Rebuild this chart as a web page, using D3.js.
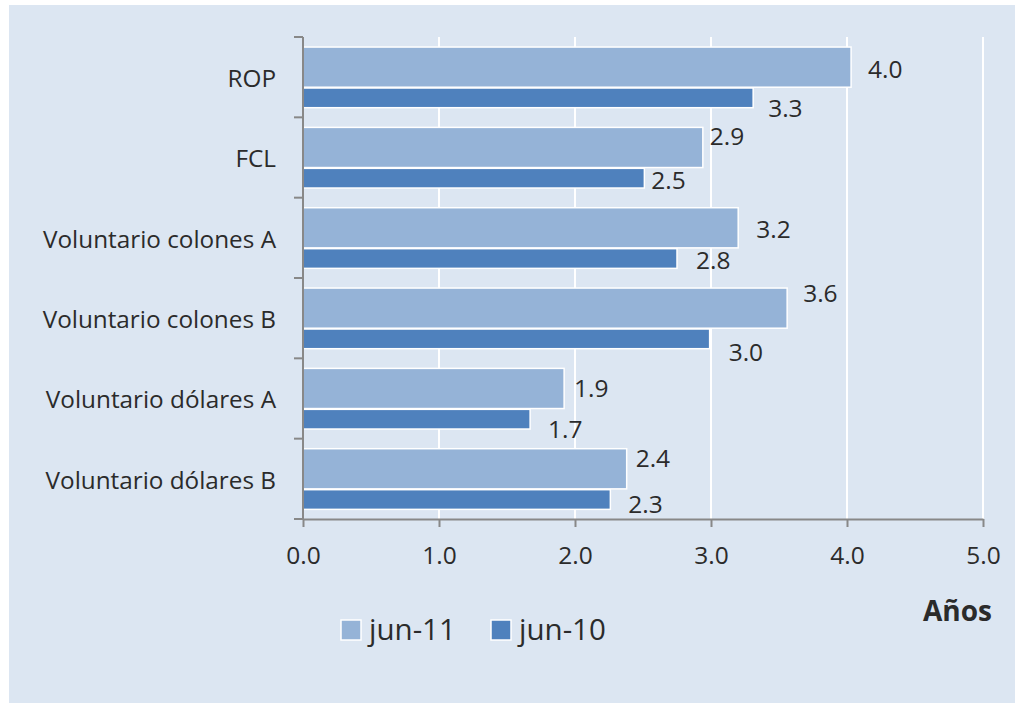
<!DOCTYPE html>
<html><head><meta charset="utf-8">
<script src="https://cdn.jsdelivr.net/npm/d3@7"></script>
<style>
html,body{margin:0;padding:0;background:#fff;}
svg{display:block;font-family:"Open Sans",sans-serif;}
</style></head>
<body>
<svg id="chart" width="1015" height="703"></svg>
<script>
// ---- data ----
const categories = ["ROP","FCL","Voluntario colones A","Voluntario colones B","Voluntario dólares A","Voluntario dólares B"];
const seriesNames = ["jun-11","jun-10"];
const jun11 = [4.03, 2.94, 3.20, 3.56, 1.92, 2.38];
const jun10 = [3.31, 2.51, 2.75, 2.99, 1.67, 2.26];
const xTicks = [0,1,2,3,4,5];
const axisTitle = "Años";
// label nudges (manual placement as in the original)
const nudge11 = {dx:[17,7,18,16,10,9], dy:[2,-11,1.5,-15,0,-11]};
const nudge10 = {dx:[15,7,19,19,18,18], dy:[10,2,1.5,13,10,5]};

const colors = {"jun-11":"#95b3d7","jun-10":"#4f81bd"};
const svg = d3.select("#chart");
const textColor = "#2b2b2b";

svg.append("rect").attr("x",9).attr("y",5).attr("width",1006).attr("height",698).attr("fill","#dce6f2");

const x = d3.scaleLinear().domain([0,5]).range([303,983]);
const y = d3.scaleBand().domain(categories).range([37,519]).paddingInner(0).paddingOuter(0);
const bw = y.bandwidth();

// gridlines
svg.append("g").selectAll("line").data(xTicks.slice(1)).join("line")
  .attr("x1",d=>x(d)).attr("x2",d=>x(d)).attr("y1",37).attr("y2",519)
  .attr("stroke","#fff").attr("stroke-width",2);

// bars
const fmt = d3.format(".1f");
const g = svg.append("g");
g.selectAll("rect.b11").data(categories).join("rect").attr("class","b11")
  .attr("x",x(0)).attr("y",d=>y(d)+0.125*bw).attr("height",0.5*bw)
  .attr("width",(d,i)=>x(jun11[i])-x(0))
  .attr("fill",colors["jun-11"]).attr("stroke","#fff").attr("stroke-width",1.5);
g.selectAll("rect.b10").data(categories).join("rect").attr("class","b10")
  .attr("x",x(0)).attr("y",d=>y(d)+0.635*bw).attr("height",0.245*bw)
  .attr("width",(d,i)=>x(jun10[i])-x(0))
  .attr("fill",colors["jun-10"]).attr("stroke","#fff").attr("stroke-width",1.5);

// value labels
g.selectAll("text.l11").data(categories).join("text").attr("class","l11")
  .attr("x",(d,i)=>x(jun11[i])+nudge11.dx[i])
  .attr("y",(d,i)=>y(d)+0.375*bw+nudge11.dy[i])
  .attr("dy","0.36em").attr("font-size",24.5).attr("fill",textColor)
  .text((d,i)=>fmt(jun11[i]));
g.selectAll("text.l10").data(categories).join("text").attr("class","l10")
  .attr("x",(d,i)=>x(jun10[i])+nudge10.dx[i])
  .attr("y",(d,i)=>y(d)+0.7575*bw+nudge10.dy[i])
  .attr("dy","0.36em").attr("font-size",24.5).attr("fill",textColor)
  .text((d,i)=>fmt(jun10[i]));

// y axis
const axisColor = "#888";
const yTickPos = categories.map(c=>y(c)).concat([y.range()[1]]);
svg.append("line").attr("x1",303).attr("x2",303).attr("y1",37).attr("y2",519)
  .attr("stroke",axisColor).attr("stroke-width",2);
svg.append("g").selectAll("line").data(yTickPos).join("line")
  .attr("x1",294).attr("x2",303).attr("y1",d=>d).attr("y2",d=>d)
  .attr("stroke",axisColor).attr("stroke-width",2);
svg.append("g").selectAll("text").data(categories).join("text")
  .attr("x",276).attr("y",d=>y(d)+bw/2+1).attr("dy","0.36em")
  .attr("text-anchor","end").attr("font-size",24.3).attr("fill",textColor).text(d=>d);

// x axis
const xAxis = d3.axisBottom(x).tickValues(xTicks).tickSize(8).tickSizeOuter(0).tickFormat(fmt);
const xg = svg.append("g").attr("transform","translate(0,519)").call(xAxis);
xg.select(".domain").attr("stroke",axisColor).attr("stroke-width",2);
xg.selectAll(".tick line").attr("stroke",axisColor).attr("stroke-width",2);
xg.selectAll(".tick text").attr("font-size",24.5).attr("fill",textColor)
  .attr("font-family","Open Sans, sans-serif").attr("y",45).attr("dy","0");
svg.append("line").attr("x1",294).attr("x2",303).attr("y1",519).attr("y2",519).attr("stroke",axisColor).attr("stroke-width",2);

svg.append("text").attr("x",992).attr("y",621).attr("text-anchor","end")
  .attr("font-size",28).attr("font-weight","bold").attr("fill",textColor).text(axisTitle);

// legend
const lx = [341,491];
const lg = svg.append("g").selectAll("g").data(seriesNames).join("g")
  .attr("transform",(d,i)=>`translate(${lx[i]},620)`);
lg.append("rect").attr("width",20).attr("height",20).attr("fill",d=>colors[d])
  .attr("stroke","#fff").attr("stroke-width",1.5);
lg.append("text").attr("x",28).attr("y",20).attr("font-size",29.5).attr("fill",textColor).text(d=>d);
</script>
</body></html>
